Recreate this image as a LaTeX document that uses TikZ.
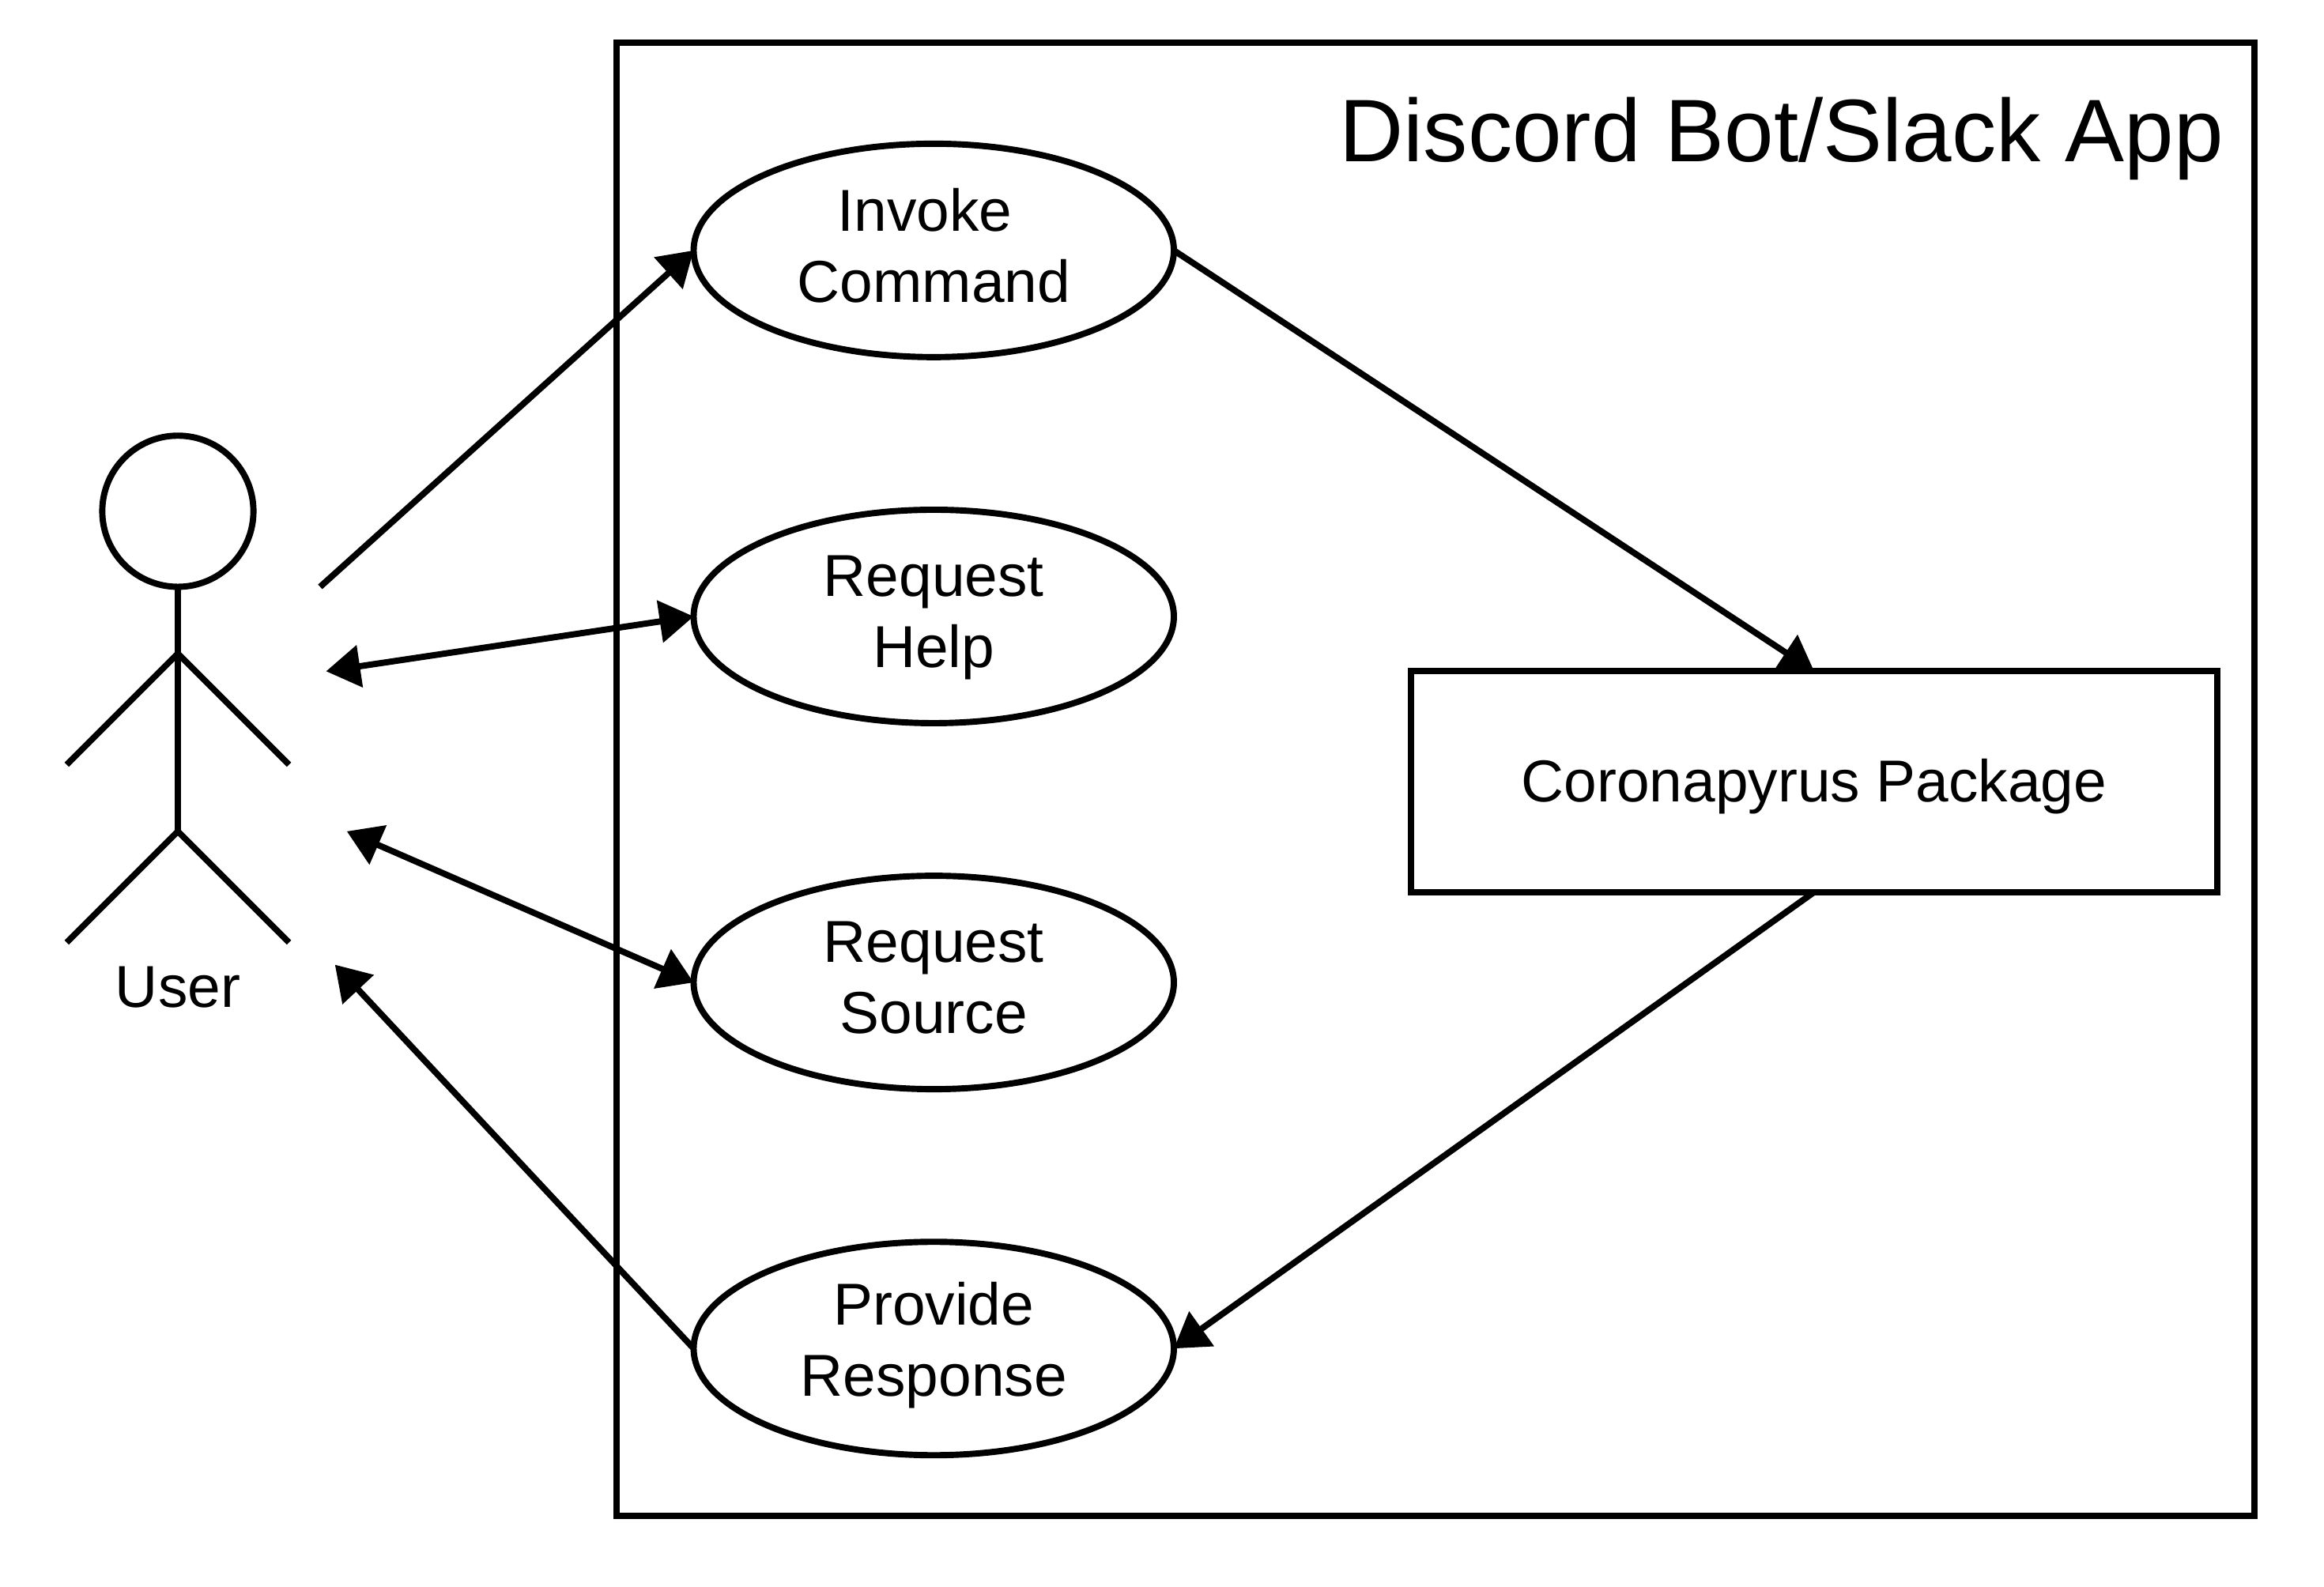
\documentclass[tikz,border=0pt]{standalone}
\usepackage{fontspec}
\setmainfont{Liberation Sans}
\usepackage{tikz}
\usetikzlibrary{arrows.meta, shapes.geometric}
\usepackage{tkz-euclide}

\tikzset{
    usecase/.style={draw, ellipse, line width=1.2pt, minimum width=3.24cm, minimum height=1.44cm, inner sep=0pt, outer sep=0pt},
    pkgbox/.style={draw, rectangle, line width=1.2pt, minimum width=5.44cm, minimum height=1.49cm, inner sep=0pt, outer sep=0pt},
    caselabel/.style={align=center, inner sep=0pt},
    link/.style={line width=1.2pt, -{Triangle[length=0.23cm, width=0.28cm]}},
    linkboth/.style={line width=1.2pt, {Triangle[length=0.23cm, width=0.28cm]}-{Triangle[length=0.23cm, width=0.28cm]}},
    limb/.style={line width=1.2pt}
}

\begin{document}
\begin{tikzpicture}[font=\fontsize{11.36}{13.65}\selectfont]
    \useasboundingbox (0,0) rectangle (15.68,10.704);

    % --- 1. system frame and title ---
    \node[draw, rectangle, line width=1.2pt, minimum width=11.05cm, minimum height=9.94cm, inner sep=0pt, outer sep=0pt] (frame) at (9.685,5.444) {};
    \node[font=\fontsize{17.05}{20}\selectfont] (title) at (12.02,9.769) {Discord Bot/Slack App};

    % --- 2. use cases and package ---
    \node[usecase] (invoke) at (6.30,9.014) {};
    \node[usecase] (help) at (6.30,6.544) {};
    \node[usecase] (source) at (6.30,4.074) {};
    \node[usecase] (response) at (6.30,1.604) {};
    \node[pkgbox] (package) at (12.24,5.429) {};

    \node[caselabel, yshift=0.035cm] (invokeText) at (invoke) {Invoke\hspace*{0.12cm}\\Command};
    \node[caselabel, yshift=-0.01cm] (helpText) at (help) {Request\\Help};
    \node[caselabel, yshift=0.03cm] (sourceText) at (source) {Request\\Source};
    \node[caselabel, yshift=0.02cm] (responseText) at (response) {Provide\\Response};
    \node[yshift=-0.03cm] (packageText) at (package) {Coronapyrus Package};

    % --- 3. the user figure ---
    \node[draw, circle, line width=1.2pt, minimum size=1.02cm, inner sep=0pt, outer sep=0pt] (head) at (1.20,7.254) {};
    \tkzDefPoint(1.20,6.294){shoulder}
    \tkzDefPoint(1.20,5.094){hip}
    \tkzDefPoint(0.45,5.544){handL}
    \tkzDefPoint(1.95,5.544){handR}
    \tkzDefPoint(0.45,4.344){footL}
    \tkzDefPoint(1.95,4.344){footR}
    \draw[limb] (head.south) -- (hip);
    \draw[limb] (handL) -- (shoulder) -- (handR);
    \draw[limb] (footL) -- (hip) -- (footR);
    \node (user) at (1.20,4.04) {User};

    % --- 4. free ends beside the user ---
    \tkzDefPoint(2.16,6.744){userInvoke}
    \tkzDefPoint(2.20,6.174){userHelp}
    \tkzDefPoint(2.34,5.094){userSource}
    \tkzDefPoint(2.26,4.194){userResponse}

    % --- 5. connectors ---
    \draw[link] (userInvoke) -- (invoke.west);
    \draw[linkboth] (userHelp) -- (help.west);
    \draw[linkboth] (userSource) -- (source.west);
    \draw[link] (response.west) -- (userResponse);
    \draw[link] (invoke.east) -- (package.north);
    \draw[link] (package.south) -- (response.east);

\end{tikzpicture}
\end{document}
